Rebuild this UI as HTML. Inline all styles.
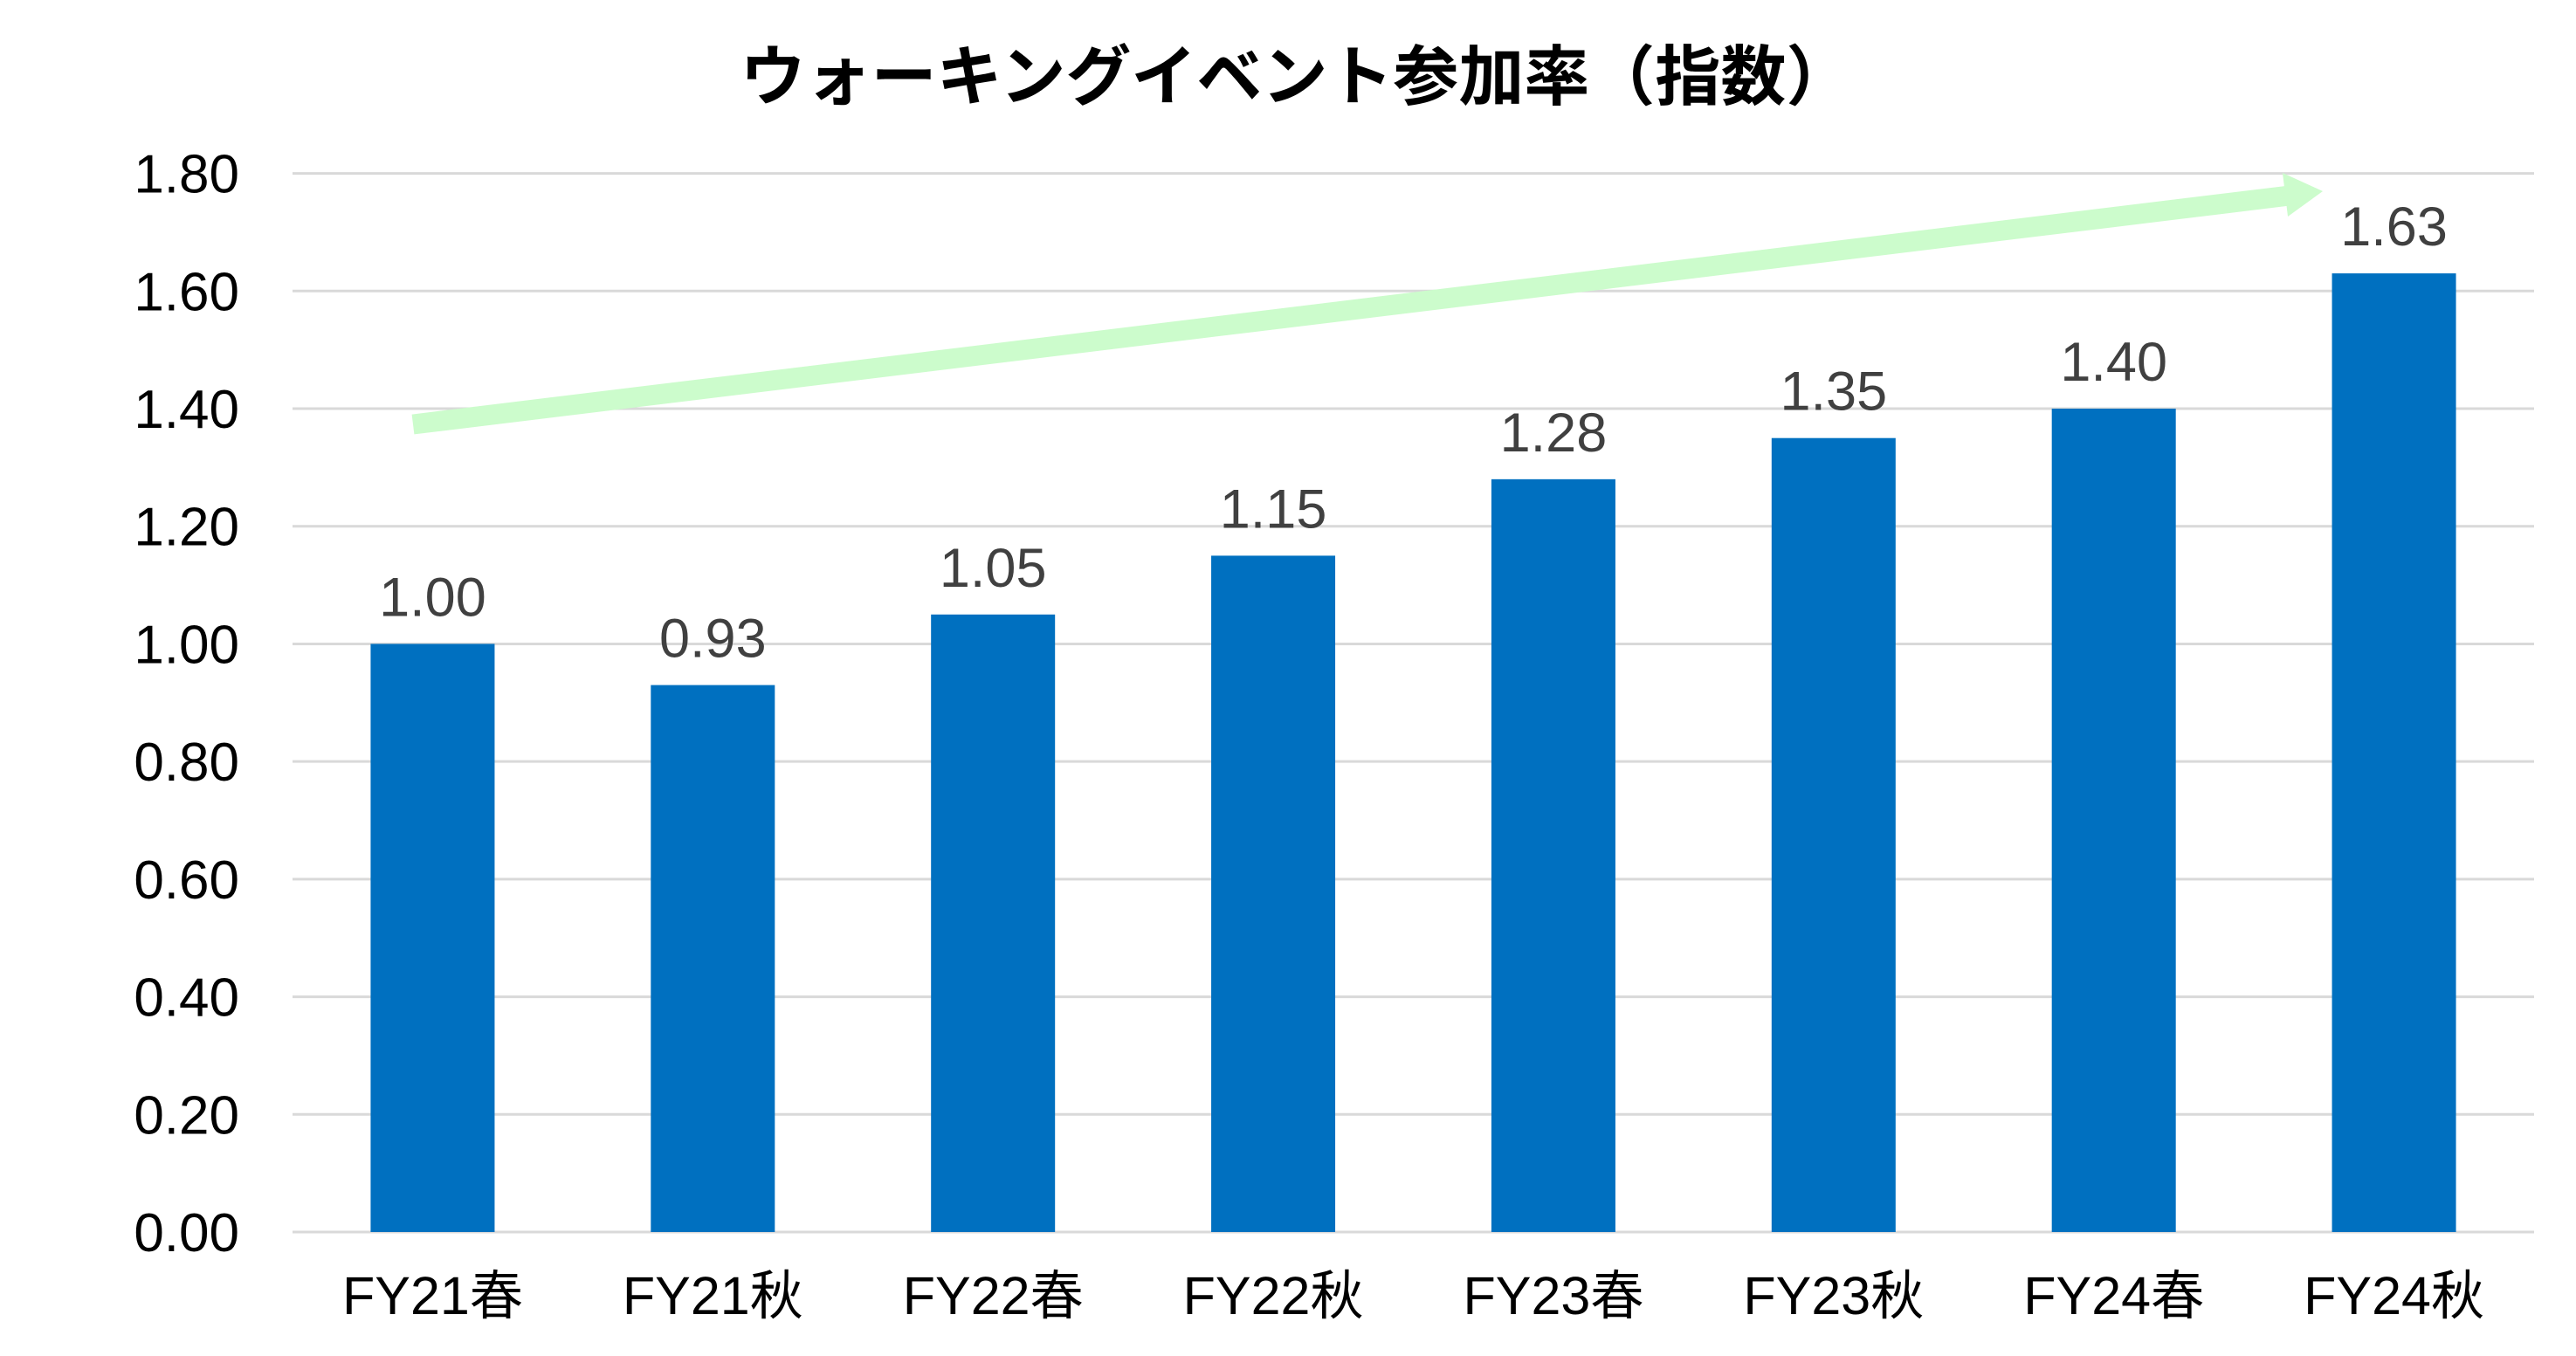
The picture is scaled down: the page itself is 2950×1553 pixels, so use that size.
<!DOCTYPE html>
<html><head><meta charset="utf-8"><style>
html,body{margin:0;padding:0;background:#fff;}
svg text{font-family:"Liberation Sans","Noto Sans CJK JP",sans-serif;}
</style></head><body>
<svg id="chart" width="2950" height="1548" xmlns="http://www.w3.org/2000/svg">
<text x="1484" y="114" text-anchor="middle" font-size="75" font-weight="bold" fill="#000">ウォーキングイベント参加率（指数）</text>
<g id="grid"></g><g id="bars"></g><g id="labels"></g>
<g>
<line x1="473" y1="486" x2="2622" y2="224" stroke="#ccfccc" stroke-width="23"/>
<polygon points="2660,219 2614,198 2620,248" fill="#ccfccc"/>
</g>
</svg>
<script>
const categories=["FY21春","FY21秋","FY22春","FY22秋","FY23春","FY23秋","FY24春","FY24秋"];
const values=[1.00,0.93,1.05,1.15,1.28,1.35,1.40,1.63];
const ticks=[0,0.2,0.4,0.6,0.8,1.0,1.2,1.4,1.6,1.8];
const NS="http://www.w3.org/2000/svg";
const x0=335,x1=2902,yTop=198.6,yBot=1411,vmax=1.8;
const y=v=>yBot-(v/vmax)*(yBot-yTop);
const step=(x1-x0)/categories.length;
const xc=i=>x0+step*(i+0.5);
const grid=document.getElementById('grid'),bars=document.getElementById('bars'),labels=document.getElementById('labels');
function mk(t,a){const e=document.createElementNS(NS,t);for(const k in a)e.setAttribute(k,a[k]);return e;}
ticks.forEach(t=>{
 const l=mk('line',{x1:x0,x2:x1,y1:y(t),y2:y(t),stroke:'#d9d9d9','stroke-width':3});
 
 
 grid.appendChild(l);
 const tx=mk('text',{x:274,y:y(t)+22,'text-anchor':'end','font-size':62,fill:'#000'});
 
 
 tx.textContent=t.toFixed(2);labels.appendChild(tx);
});
categories.forEach((c,i)=>{
 const v=values[i];
 const r=mk('rect',{x:xc(i)-71,y:y(v),width:142,height:yBot-y(v),fill:'#0070c0'});
 
 
 bars.appendChild(r);
 const vt=mk('text',{x:xc(i),y:y(v)-32,'text-anchor':'middle','font-size':63,fill:'#404040'});
 
 
 vt.textContent=v.toFixed(2);labels.appendChild(vt);
 const xt=mk('text',{x:xc(i),y:1505,'text-anchor':'middle','font-size':61,fill:'#000'});
 
 
 xt.textContent=c;labels.appendChild(xt);
});
</script>
</body></html>
